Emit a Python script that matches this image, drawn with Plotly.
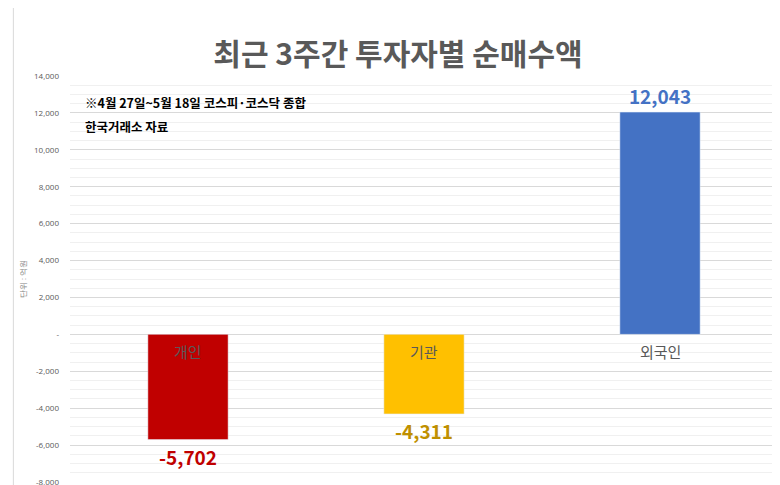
import plotly.graph_objects as go

categories = ["개인", "기관", "외국인"]
values = [-5702, -4311, 12043]
value_labels = ["-5,702", "-4,311", "12,043"]
bar_colors = ["#C00000", "#FFC000", "#4472C4"]
label_colors = ["#C00000", "#BF9000", "#4472C4"]
tick_vals = list(range(-8000, 14001, 2000))
tick_text = ["-8,000", "-6,000", "-4,000", "-2,000", "-", "2,000", "4,000", "6,000", "8,000", "10,000", "12,000", "14,000"]

fig = go.Figure()
fig.add_trace(go.Bar(x=categories, y=values, marker_color=bar_colors, width=0.34,
                     text=["<b>%s</b>" % t for t in value_labels], textposition="outside", cliponaxis=False,
                     textfont=dict(size=19, color=label_colors, family="Noto Sans CJK KR"),
                     hoverinfo="skip"))
for c in categories:
    fig.add_annotation(x=c, y=-250, text=c, showarrow=False, yanchor="top",
                       font=dict(size=15, color="#595959", family="Noto Sans CJK KR"))
fig.add_annotation(xref="paper", yref="paper", x=0.018, y=0.935, xanchor="left", yanchor="middle",
                   showarrow=False, text="<b>※4월 27일~5월 18일 코스피·코스닥 종합</b>",
                   font=dict(size=12.5, color="#000", family="Noto Sans CJK KR"))
fig.add_annotation(xref="paper", yref="paper", x=0.018, y=0.875, xanchor="left", yanchor="middle",
                   showarrow=False, text="<b>한국거래소 자료</b>",
                   font=dict(size=12.5, color="#000", family="Noto Sans CJK KR"))
fig.update_layout(
    width=780, height=485, margin=dict(l=62, r=10, t=68, b=11, autoexpand=False),
    paper_bgcolor="white", plot_bgcolor="white", showlegend=False,
    title=dict(text="<b>최근 3주간 투자자별 순매수액</b>", x=0.5, xanchor="center", y=0.925,
               font=dict(size=30, color="#595959", family="Noto Sans CJK KR")),
    xaxis=dict(showticklabels=False, showgrid=False, zeroline=False, automargin=False),
    yaxis=dict(range=[-8000, 14000], tickvals=tick_vals, ticktext=tick_text, automargin=False,
               tickfont=dict(size=8, color="#595959"), showgrid=True, gridcolor="#D9D9D9",
               zeroline=False, ticks="", ticklabelstandoff=10,
               minor=dict(dtick=500, showgrid=True, gridcolor="#F0F0F0"),
               title=dict(text="단위 : 억원", font=dict(size=8, color="#7F7F7F"), standoff=6)),
    shapes=[dict(type="rect", xref="paper", yref="paper", x0=-0.08, x1=1.012, y0=-0.027, y1=1.17,
                 line=dict(color="#D9D9D9", width=1))],
)
fig.write_html("out.html")
